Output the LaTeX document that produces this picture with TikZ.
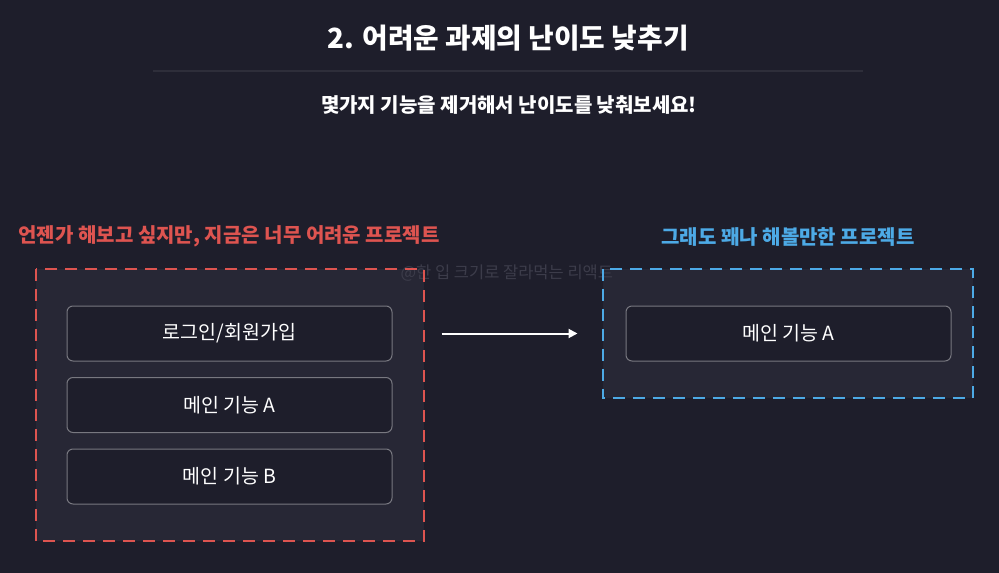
\documentclass[tikz,border=0pt]{standalone}
\usepackage{fontspec}
\setmainfont{Noto Sans CJK KR}
\usetikzlibrary{positioning, arrows.meta}
\definecolor{bgcolor}{RGB}{30,30,43}
\definecolor{framefill}{RGB}{39,39,53}
\definecolor{hardcolor}{RGB}{222,84,80}
\definecolor{easycolor}{RGB}{77,170,230}
\definecolor{rulecolor}{RGB}{46,46,58}
\definecolor{boxline}{RGB}{120,120,128}
\definecolor{markcolor}{RGB}{60,60,74}

\begin{document}
\begin{tikzpicture}[x=1pt, y=-1pt,
    frame/.style={fill=framefill, inner sep=0pt},
    frameline/.style={line width=2.5pt, dash pattern=on 12pt off 8pt},
    featbox/.style={draw=boxline, line width=1pt, fill=bgcolor, rounded corners=6pt, minimum width=325pt, minimum height=55pt, text=white, font=\fontsize{19.5}{22}\selectfont},
    headlabel/.style={font=\fontsize{20}{24}\selectfont\bfseries}]
    % Fond
    \fill[bgcolor] (0,0) rectangle (999,573);
    \useasboundingbox (0,0) rectangle (999,573);

    % Titre
    \node[text=white, font=\fontsize{27.8}{32}\selectfont\bfseries] (title) at (508,38) {2. 어려운 과제의 난이도 낮추기};
    \draw[rulecolor, line width=2pt] (153,71) -- (863,71);
    \node[text=white, font=\fontsize{20}{24}\selectfont\bfseries] (subtitle) at (509,105) {몇가지 기능을 제거해서 난이도를 낮춰보세요!};

    % === Projet difficile (gauche) ===
    \node[headlabel, text=hardcolor] (hardlabel) at (229,236) {언젠가 해보고 싶지만, 지금은 너무 어려운 프로젝트};
    \node[frame, minimum width=388pt, minimum height=272pt] (hardframe) at (230,405) {};

    % === Projet faisable (droite) ===
    \node[headlabel, text=easycolor] (easylabel) at (788,237) {그래도 꽤나 해볼만한 프로젝트};
    \node[frame, minimum width=370pt, minimum height=129pt] (easyframe) at (788,333.5) {};

    % Filigrane
    \node[text=markcolor, font=\fontsize{16.5}{18}\selectfont, anchor=west] (mark) at (397,273) {@한 입 크기로 잘라먹는 리액트};

    % Contours pointillés
    \draw[frameline, hardcolor] (hardframe.north west) rectangle (hardframe.south east);
    \draw[frameline, easycolor] (easyframe.north west) rectangle (easyframe.south east);

    % Fonctionnalités
    \node[featbox] (login) at (229.5,333.5) {로그인/회원가입};
    \node[featbox, below=15.5pt of login] (mainA) {메인 기능 A};
    \node[featbox, below=15.5pt of mainA] (mainB) {메인 기능 B};
    \node[featbox] (mainAeasy) at (788.5,333.5) {메인 기능 A};

    % Flèche
    \draw[-{Triangle[length=9pt, width=9pt]}, white, line width=2pt, shorten <=49pt, shorten >=48pt] (login.east) -- (mainAeasy.west);
\end{tikzpicture}
\end{document}
